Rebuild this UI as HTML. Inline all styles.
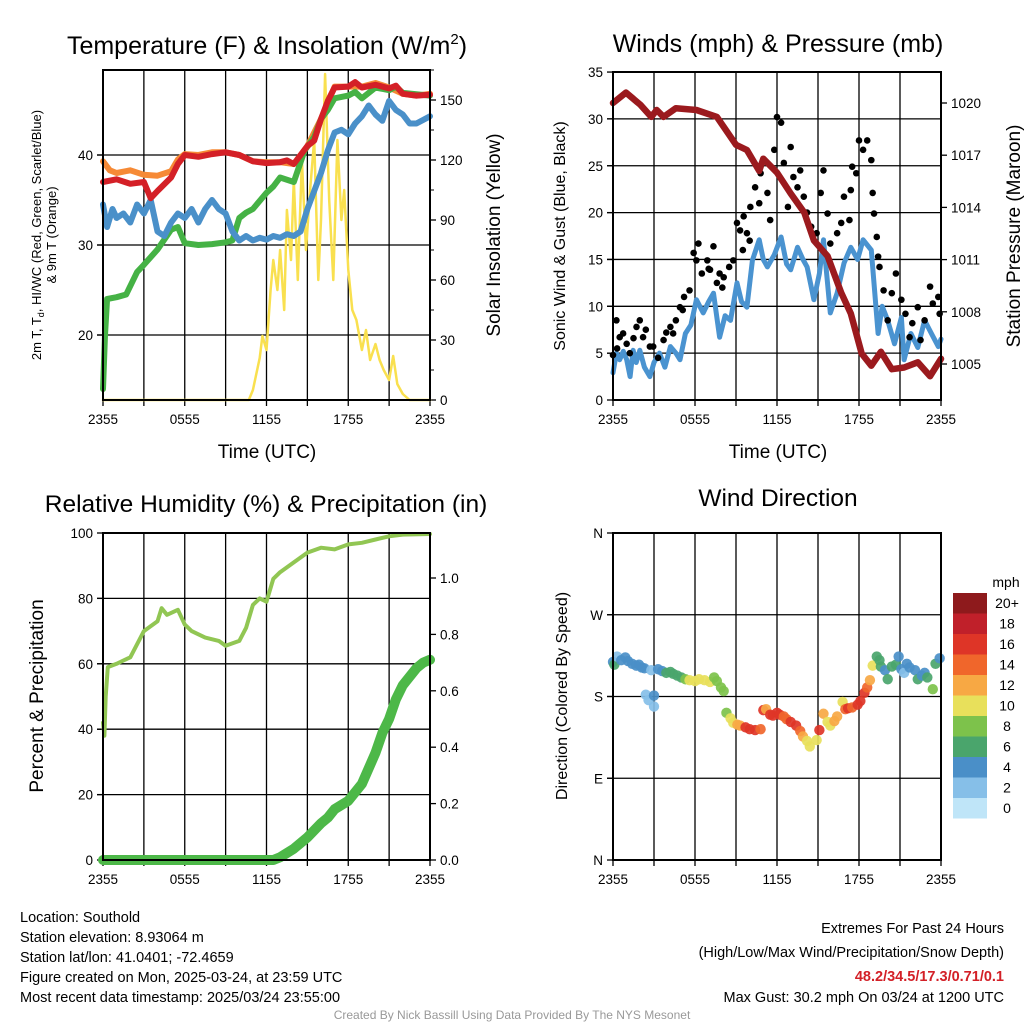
<!DOCTYPE html>
<html><head><meta charset="utf-8"><style>
body{margin:0;background:#fff;}
svg{display:block;font-family:"Liberation Sans",sans-serif;}
</style></head><body>
<svg id="s" width="1024" height="1024" viewBox="0 0 1024 1024" xmlns="http://www.w3.org/2000/svg">
<rect width="1024" height="1024" fill="#fff"/>
<g id="g1"></g>
<g id="g2"></g>
<g id="g3"></g>
<g id="g4"></g>
<text x="267" y="54" font-size="25" text-anchor="middle">Temperature (F) &amp; Insolation (W/m<tspan dy="-10" font-size="15">2</tspan><tspan dy="10">)</tspan></text>
<text x="778" y="52" font-size="25" text-anchor="middle">Winds (mph) &amp; Pressure (mb)</text>
<text x="266" y="512" font-size="24.5" text-anchor="middle">Relative Humidity (%) &amp; Precipitation (in)</text>
<text x="778" y="506" font-size="24.5" text-anchor="middle">Wind Direction</text>
<text transform="translate(41,235) rotate(-90)" font-size="13" text-anchor="middle">2m T, T<tspan font-size="9" dy="3">d</tspan><tspan dy="-3">, HI/WC (Red, Green, Scarlet/Blue)</tspan></text>
<text transform="translate(56,235) rotate(-90)" font-size="13" text-anchor="middle">&amp; 9m T (Orange)</text>
<text transform="translate(500,235) rotate(-90)" font-size="19" text-anchor="middle">Solar Insolation (Yellow)</text>
<text transform="translate(565,236) rotate(-90)" font-size="16" text-anchor="middle">Sonic Wind &amp; Gust (Blue, Black)</text>
<text transform="translate(1020,236) rotate(-90)" font-size="19" text-anchor="middle">Station Pressure (Maroon)</text>
<text transform="translate(43,696) rotate(-90)" font-size="19" text-anchor="middle">Percent &amp; Precipitation</text>
<text transform="translate(567,696) rotate(-90)" font-size="16" text-anchor="middle">Direction (Colored By Speed)</text>
<text x="267" y="458" font-size="19" text-anchor="middle">Time (UTC)</text>
<text x="778" y="458" font-size="19" text-anchor="middle">Time (UTC)</text>
<g font-size="14.5">
<text x="20" y="922">Location: Southold</text>
<text x="20" y="942">Station elevation: 8.93064 m</text>
<text x="20" y="962">Station lat/lon: 41.0401; -72.4659</text>
<text x="20" y="982">Figure created on Mon, 2025-03-24, at 23:59 UTC</text>
<text x="20" y="1002">Most recent data timestamp: 2025/03/24 23:55:00</text>
</g>
<g font-size="14.5" text-anchor="end">
<text x="1004" y="933">Extremes For Past 24 Hours</text>
<text x="1004" y="957">(High/Low/Max Wind/Precipitation/Snow Depth)</text>
<text x="1004" y="981" fill="#d32027" font-weight="bold">48.2/34.5/17.3/0.71/0.1</text>
<text x="1004" y="1002">Max Gust: 30.2 mph On 03/24 at 1200 UTC</text>
</g>
<text x="512" y="1019" font-size="12" fill="#999" text-anchor="middle">Created By Nick Bassill Using Data Provided By The NYS Mesonet</text>
</svg>
<script>
// ---------- data ----------
const xTickLabels = ["2355","0555","1155","1755","2355"];
const tRedH = [0,1,2,3,3.5,4,5,5.5,6,7,8,9,10,11,12,13,13.5,14,15,15.5,16,16.5,17,18,18.5,19,20,21,21.5,22,23,24];
const tRed  = [37,37.3,36.8,37,35.2,36,37.5,39,40,39.8,40.1,40.3,40,39.3,39.1,39.2,39.4,39,41,41.6,44,46,47.5,47.6,48.1,47.5,47.8,47.4,47.7,46.8,46.6,46.7];
const tOrgH = [0,0.5,1,2,3,4,5,5.5,6,7,8,9,10,11,12,13,14,15,16,17,18,19,20,21,22,23,24];
const tOrg  = [39.3,38.3,38,38.3,37.8,37.7,38.2,39.5,40.1,40,40.3,40.3,40,39.3,39.2,39.2,39,41,44,47.6,47.6,47.6,48,47.5,46.8,46.6,46.8];
const tGrnH = [0,0.15,0.3,1,1.7,2.5,3,4,5,5.5,6,7,8,9,9.5,10,10.5,11,12,12.5,13,14,14.8,15.5,16,16.5,17,18,18.5,19,20,21,21.5,22,24];
const tGrn  = [14,20,24,24.2,24.5,27,27.8,29.5,31.7,32,30.2,30,30.1,30.3,30.5,33,33.6,34,35.8,36.5,37.5,37,40.5,42,44,45,46.3,46.6,47,46.3,47.5,47.2,47.6,46.9,46.6];
const tBluH = [0,0.3,0.7,1,1.5,2,2.5,3,3.5,4,4.5,5,5.5,6,6.5,7,7.5,8,8.5,9,9.5,10,10.5,11,11.5,12,12.5,13,13.5,14,14.5,15,15.5,16,16.5,17,17.5,18,18.5,19,19.5,20,20.5,21,21.5,22,22.5,23,24];
const tBlu  = [34.5,32,34,33,33.5,32.5,34.5,33.5,35,31.5,31,32.5,33.5,33,34,32.5,34,35,34,33.5,31.5,30.5,31,30.5,30.8,30.6,31,30.8,31.2,31,31.5,34,36,38,40.5,42.5,42.8,42.3,43.5,44.3,45.5,44.5,43.8,46,45,44.5,43.5,43.5,44.3];
const solH = [0,10.7,11,11.5,11.7,12,12.3,12.5,12.8,13,13.3,13.5,13.8,14,14.3,14.6,14.9,15.2,15.5,15.8,16,16.3,16.6,16.9,17.2,17.5,17.7,18,18.3,18.6,19,19.3,19.6,20,20.3,20.6,21,21.3,21.6,22,22.5,24];
const solW = [0,0,5,21,32,25,55,70,55,75,45,95,70,110,60,120,75,105,130,60,90,163,100,60,130,90,105,65,45,40,25,35,20,28,20,15,10,22,8,3,0,0];

const presH = [0,0.95,2,2.8,3.2,3.7,4.6,6.1,7.6,9,9.8,10.7,11,12,13,14,14.7,15.7,16.7,17.4,18.2,18.9,19.6,20.4,21.3,22.3,23.2,24];
const pres  = [1020,1020.6,1019.9,1019.2,1019.6,1019.2,1019.7,1019.6,1019.2,1017.6,1017.3,1016.1,1016.8,1016,1014.8,1013.7,1012.1,1011.2,1009.1,1007.9,1005.6,1004.9,1005.7,1004.7,1004.8,1005.1,1004.3,1005.3];
const windH = [0,0.25,0.49,0.75,1,1.25,1.47,1.7,1.96,2.3,2.7,3,3.4,3.8,4.2,4.6,4.9,5.3,5.7,6.1,6.6,7,7.35,7.8,8.2,8.6,9.07,9.4,9.8,10.2,10.7,11,11.3,11.8,12.3,12.7,13,13.5,13.9,14.2,14.7,15.1,15.4,15.9,16.4,16.9,17.4,17.9,18.3,18.9,19.4,19.7,20.1,20.6,21.1,21.3,21.8,22.3,22.8,23.3,23.8,24];
const wind  = [2.9,5,4.3,5.2,4.3,2.5,5.3,4,5.3,3.5,2.5,4,5,3.5,5.7,5,4.3,7.1,8,10.7,9.3,10.5,11.4,6.7,9,8.5,12.5,10.5,9.9,14.9,17.1,15,14.2,15.5,17.4,14.5,13.9,16.3,15,14.2,10.7,13.5,17.1,9.3,11.4,14.6,16.3,15,17.1,16,7.1,10,8.5,6,8.8,4.3,7.1,5.6,8.5,7.1,5.7,6.5];
const gustH = [0,0.25,0.3,0.49,0.74,1,1.23,1.5,1.72,1.96,2.2,2.4,2.7,2.94,3.3,3.7,3.9,4.2,4.4,4.6,4.9,5.1,5.2,5.6,5.9,6.1,6.25,6.5,6.9,7,7.1,7.35,7.6,7.8,8,8.1,8.5,8.8,9.07,9.3,9.5,9.56,9.8,10,10.05,10.4,10.7,10.8,11,11.3,11.5,11.8,12,12.3,12.5,12.8,13,13.2,13.5,13.7,13.96,14.2,14.5,14.9,15.2,15.4,15.7,15.9,16.4,16.7,16.9,17.3,17.4,17.5,17.8,18,18.3,18.6,18.9,19,19.1,19.3,19.4,19.5,19.8,20.1,20.4,20.7,21.1,21.4,21.7,21.9,22.3,22.5,22.8,23.2,23.4,23.8,23.9];
const gust  = [4.8,8.5,5.5,6.7,7.1,6,5,6.6,7.8,8.5,6.7,7.5,5.7,5.7,4.5,6.4,7.2,7.8,7.1,8.5,9.9,9.6,11,11.7,15.7,14.9,16.7,13.5,14.9,14,13.9,16.4,12.5,13.5,12,13.1,14.2,14.9,18.9,18.1,16,19.6,17.8,17,20.6,22.7,21,24.2,25.6,22.1,19.2,26.7,30.2,29.6,25.3,20.6,27,23.8,22.7,24.5,21.7,20,18.5,17.8,22.1,24.5,19.9,16.7,17.8,18.9,21.7,19.2,22.4,24.9,24.2,27.7,26.7,27.7,25.6,22.1,19.9,17.4,15.3,14.2,11.7,8.5,11.4,13.5,10.7,9.2,6.7,8.2,9.9,6.4,8.5,12.1,10.3,11,9.2];

const rhH = [0,0.1,0.2,0.35,1,1.5,2,3,4,4.3,4.7,5.5,6,6.5,7.5,8.5,9,10,10.5,11,11.5,12,12.5,13,14,15,16,17,18,19,20,21,22,24];
const rh  = [42,38,50,59,60,61,62,70,73,77,75,76.5,72,70,68,67,65.5,67,71,78,80,79,86,88,91,94,95.5,95,96.5,97,98,99,99.5,99.7];
const prH = [0,12.5,13,14,15,16,16.5,17,18,19,20,20.5,21,21.5,22,23,23.5,24];
const pr  = [0,0,0.01,0.04,0.08,0.13,0.15,0.18,0.21,0.27,0.38,0.45,0.5,0.57,0.62,0.68,0.7,0.71];

const dirH = [0,0.1,0.3,0.6,0.9,1.1,1.4,1.7,1.9,2.1,2.3,2.8,2.4,2.6,3.0,3.0,3.3,3.6,3.9,4.2,4.4,4.7,5.0,5.3,5.6,6.0,6.3,6.7,7.1,7.4,7.6,7.9,8.1,8.3,8.6,8.8,9.1,9.3,9.7,10.0,10.4,10.8,11.0,11.2,11.5,11.7,12.0,12.2,12.5,12.7,13.0,13.4,13.7,13.9,14.2,14.4,14.9,15.1,15.4,15.7,15.9,16.2,16.4,16.8,17.0,17.2,17.5,17.9,18.1,18.4,18.6,18.8,19.0,19.3,19.5,19.6,19.9,20.1,20.4,20.7,20.9,21.1,21.3,21.5,21.7,22.1,22.3,22.6,22.8,23.0,23.4,23.6,23.9];
const dirDeg = [218,215,224,220,223,219,216,214,215,212,211,209,182,176,181,169,210,208,206,207,205,203,201,199,198,197,199,198,196,201,197,190,186,162,156,151,149,148,146,144,143,144,165,166,160,159,162,160,158,155,152,148,142,136,131,125,132,143,161,152,148,153,158,174,166,167,168,171,175,184,190,198,214,224,220,213,209,199,213,215,224,210,206,216,212,209,199,203,206,201,188,216,222,229];
const dirSpd = [5,7,3,5,5,5,5,5,5,5,5,3,3,3,5,3,5,5,7,7,7,7,7,9,11,11,11,11,11,9,9,9,9,9,11,11,13,13,16,16,16,15,16,13,16,16,16,16,15,15,16,16,15,13,11,11,11,16,13,11,11,13,13,11,15,16,15,16,16,16,15,13,11,7,7,7,5,7,7,7,5,5,3,5,5,5,7,5,5,7,9,7,5,4];

const cbLabels = ["20+","18","16","14","12","10","8","6","4","2","0"];
const cbColors = ["#8e1a1c","#c0202a","#de3527","#f0662b","#f7a844","#e8e05b","#7dc24b","#4aa56c","#4a8fc8","#86bfe8","#bfe5f8"];

// ---------- helpers ----------
const NS="http://www.w3.org/2000/svg";
function mk(parent,tag,attrs){const e=document.createElementNS(NS,tag);for(const k in attrs)e.setAttribute(k,attrs[k]);parent.appendChild(e);return e;}
function panel(g,x0,x1,y0,y1){return {x:h=>x0+(x1-x0)*h/24,x0,x1,y0,y1};}
function frame(g,P,hy,name){
  for(let i=0;i<=8;i++){const x=P.x(i*3);
    const l=mk(g,'line',{x1:x,x2:x,y1:P.y0,y2:P.y1+6,stroke:'#000','stroke-width':1.3});
    
    }
  hy.forEach(y=>{const l=mk(g,'line',{x1:P.x0-6,x2:P.x1,y1:y,y2:y,stroke:'#000','stroke-width':1.3});
    
    });
  xTickLabels.forEach((t,i)=>{const tx=mk(g,'text',{x:P.x(i*6),y:P.y1+24,'font-size':13.5,'text-anchor':'middle'});tx.textContent=t;
    
    });
}
function border(g,P){const r=mk(g,'rect',{x:P.x0,y:P.y0,width:P.x1-P.x0,height:P.y1-P.y0,fill:'none',stroke:'#000','stroke-width':2});
  
  }
function line(g,P,H,V,yf,color,w,name){const d=H.map((h,i)=>(i?'L':'M')+P.x(h).toFixed(1)+' '+yf(V[i]).toFixed(1)).join(' ');
  const p=mk(g,'path',{d,fill:'none',stroke:color,'stroke-width':w,'stroke-linejoin':'round','stroke-linecap':'round'});
  
  return p;}
function ytick(g,x,y,label,side,name){const tx=mk(g,'text',{x:side<0?x-10:x+10,y:y+5,'font-size':13.5,'text-anchor':side<0?'end':'start'});tx.textContent=label;
  
  
  mk(g,'line',{x1:x,x2:x+side*6,y1:y,y2:y,stroke:'#000','stroke-width':1.3});}

// ---------- panel 1 ----------
const g1=document.getElementById('g1');
const P1=panel(g1,103,430,70,400);
const tY=v=>515-9*v, sY=v=>400-2*v;
frame(g1,P1,[tY(20),tY(30),tY(40)]);
[20,30,40].forEach(v=>ytick(g1,P1.x0,tY(v),v,-1,'temperature-y-tick'));
[0,30,60,90,120,150].forEach(v=>ytick(g1,P1.x1,sY(v),v,1,'insolation-y-tick'));
for(let v=15;v<=165;v+=15){if(v%30)mk(g1,'line',{x1:P1.x1,x2:P1.x1+4,y1:sY(v),y2:sY(v),stroke:'#000'});}
line(g1,P1,solH,solW,sY,'#f9e04f',2.5,'insolation-line');
line(g1,P1,tOrgH,tOrg,tY,'#f68a36',6,'9m-temperature-line');
line(g1,P1,tGrnH,tGrn,tY,'#45b245',6,'dewpoint-line');
line(g1,P1,tBluH,tBlu,tY,'#4a90c9',6,'windchill-line');
line(g1,P1,tRedH,tRed,tY,'#d42027',6,'temperature-line');
border(g1,P1);

// ---------- panel 2 ----------
const g2=document.getElementById('g2');
const P2=panel(g2,613,941,72,400);
const wY=v=>400-v*9.37, pY=p=>103+(1020-p)*17.4;
frame(g2,P2,[5,10,15,20,25,30].map(wY));
[0,5,10,15,20,25,30,35].forEach(v=>ytick(g2,P2.x0,wY(v),v,-1,'wind-y-tick'));
[1005,1008,1011,1014,1017,1020].forEach(v=>ytick(g2,P2.x1,pY(v),v,1,'pressure-y-tick'));
line(g2,P2,windH,wind,wY,'#4a93d0',5,'sonic-wind-line');
gustH.forEach((h,i)=>{const c=mk(g2,'circle',{cx:P2.x(h),cy:wY(gust[i]),r:3.3,fill:'#000'});
  
  });
line(g2,P2,presH,pres,pY,'#9b1a1e',6.5,'pressure-line');
border(g2,P2);

// ---------- panel 3 ----------
const g3=document.getElementById('g3');
const P3=panel(g3,103,430,533,860);
const rY=v=>860-v*3.27, prY=v=>860-v*282;
frame(g3,P3,[20,40,60,80].map(rY));
[0,20,40,60,80,100].forEach(v=>ytick(g3,P3.x0,rY(v),v,-1,'humidity-y-tick'));
[0,0.2,0.4,0.6,0.8,1.0].forEach(v=>ytick(g3,P3.x1,prY(v),v.toFixed(1),1,'precip-y-tick'));
line(g3,P3,prH,pr,prY,'#4db848',10,'precipitation-line');
line(g3,P3,rhH,rh,rY,'#91c653',4,'humidity-line');
border(g3,P3);

// ---------- panel 4 ----------
const g4=document.getElementById('g4');
const P4=panel(g4,613,941,533,860);
const dY=d=>860-d*327/360;
frame(g4,P4,[90,180,270].map(dY));
["N","E","S","W","N"].forEach((t,i)=>ytick(g4,P4.x0,dY(i*90),t,-1,'direction-y-tick'));
function spdColor(s){let i=Math.min(10,Math.floor(s/2));return cbColors[10-i];}
dirH.forEach((h,i)=>{const c=mk(g4,'circle',{cx:P4.x(h),cy:dY(dirDeg[i]),r:5.2,fill:spdColor(dirSpd[i]),opacity:0.92});
  
  });
border(g4,P4);
// colorbar
const cb=mk(g4,'g',{});


const mph=mk(cb,'text',{x:1006,y:587,'font-size':14,'text-anchor':'middle'});mph.textContent='mph';


cbLabels.forEach((t,i)=>{const y=593+i*20.5;
  const r=mk(cb,'rect',{x:953,y,width:34,height:20.5,fill:cbColors[i]});
  
  
  const tx=mk(cb,'text',{x:1007,y:y+15,'font-size':14,'text-anchor':'middle'});tx.textContent=t;
  
  });
</script>
</body></html>
